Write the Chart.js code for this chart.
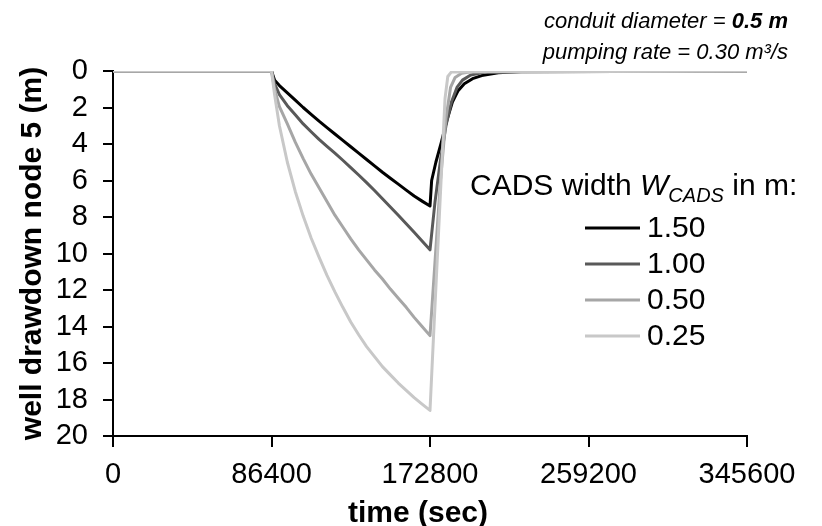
<!DOCTYPE html>
<html>
<head>
<meta charset="utf-8">
<script src="https://cdn.jsdelivr.net/npm/chart.js@4.4.1/dist/chart.umd.min.js"></script>
<style>
  html, body { margin: 0; padding: 0; background: #fff; }
</style>
</head>
<body>
<canvas id="chart" width="822" height="526"></canvas>
<script>
const FONT = '"Liberation Sans", Arial, Helvetica, sans-serif';

const widthLabels = ["1.50", "1.00", "0.50", "0.25"];
const lineColors = ["#000000", "#595959", "#a6a6a6", "#c8c8c8"];
const xTicks = [0, 86400, 172800, 259200, 345600];

// pumping phase (sec), same steps for every CADS width
const pumpTime = [0, 86400, 88100, 90720, 95040, 99360, 103680, 108000, 112320, 116640, 120960,
                  125280, 129600, 133920, 138240, 142560, 146880, 151200, 155520, 159840, 164160, 168480, 172800];
const pump150 = [0, 0, 0.5, 0.8, 1.2, 1.6, 2.0, 2.38, 2.75, 3.1, 3.45, 3.8, 4.15, 4.5, 4.85, 5.2, 5.55, 5.88, 6.2, 6.53, 6.85, 7.13, 7.4];
const pump100 = [0, 0, 0.7, 1.3, 1.9, 2.4, 2.9, 3.33, 3.75, 4.13, 4.5, 4.89, 5.29, 5.7, 6.12, 6.55, 7.0, 7.45, 7.9, 8.37, 8.84, 9.32, 9.8];
const pump050 = [0, 0, 1.0, 1.95, 2.9, 3.9, 4.8, 5.65, 6.4, 7.15, 7.9, 8.55, 9.2, 9.8, 10.35, 10.9, 11.4, 11.95, 12.45, 12.95, 13.5, 14.0, 14.5];
const pump025 = [0, 0, 1.3, 3.0, 5.0, 6.6, 7.95, 9.15, 10.2, 11.2, 12.1, 12.95, 13.75, 14.45, 15.1, 15.65, 16.2, 16.65, 17.1, 17.5, 17.9, 18.25, 18.6];

// recovery after the pump stops
const recTime150 = [173700, 176000, 179000, 182000, 185000, 188000, 191500, 196000, 201000, 210000, 225000, 345600];
const rec150 = [6.0, 5.0, 3.9, 2.7, 1.7, 1.1, 0.7, 0.42, 0.25, 0.1, 0.02, 0];
const recTime100 = [175500, 178500, 181500, 184500, 187500, 190500, 195000, 203000, 345600];
const rec100 = [7.2, 4.9, 3.0, 1.7, 0.9, 0.5, 0.22, 0.06, 0];
const recTime050 = [175500, 178500, 181500, 184000, 186500, 190000, 196000, 345600];
const rec050 = [10.5, 6.0, 2.6, 0.9, 0.35, 0.12, 0.03, 0];
const recTime025 = [174500, 177000, 179500, 181000, 182500, 184500, 345600];
const rec025 = [15.0, 9.8, 4.6, 1.5, 0.3, 0.05, 0];

function series(pump, recTime, rec) {
  const pts = pumpTime.map((t, i) => ({ x: t, y: pump[i] }));
  return pts.concat(recTime.map((t, i) => ({ x: t, y: rec[i] })));
}

const allSeries = [
  series(pump150, recTime150, rec150),
  series(pump100, recTime100, rec100),
  series(pump050, recTime050, rec050),
  series(pump025, recTime025, rec025)
];

// legend block, notes and x title, drawn by hand (subscript in the heading)
const notesAndLegend = {
  id: "notesAndLegend",
  afterDraw(chart) {
    const ctx = chart.ctx;
    ctx.save();
    ctx.fillStyle = "#000";
    ctx.textBaseline = "alphabetic";
    ctx.textAlign = "left";

    let x = 470;
    const parts = [
      ["CADS width ", "30px", 0],
      ["W", "italic 30px", 0],
      ["CADS", "italic 20px", 7],
      [" in m:", "30px", 0]
    ];
    parts.forEach(p => {
      ctx.font = p[1] + " " + FONT;
      ctx.fillText(p[0], x, 195 + p[2]);
      x += ctx.measureText(p[0]).width;
    });

    chart.data.datasets.forEach((ds, i) => {
      const y = 228 + i * 36;
      ctx.strokeStyle = ds.borderColor;
      ctx.lineWidth = 3;
      ctx.beginPath();
      ctx.moveTo(585, y);
      ctx.lineTo(640, y);
      ctx.stroke();
      ctx.font = "30px " + FONT;
      ctx.textBaseline = "middle";
      ctx.fillText(ds.label, 647, y + 1);
      ctx.textBaseline = "alphabetic";
    });

    // top-right notes, right aligned
    const right = 788;
    ctx.font = "italic 22px " + FONT;
    const a = "conduit diameter = ";
    const wa = ctx.measureText(a).width;
    ctx.font = "italic bold 22px " + FONT;
    const b = "0.5 m";
    const wb = ctx.measureText(b).width;
    ctx.font = "italic 22px " + FONT;
    ctx.fillText(a, right - wa - wb, 28);
    ctx.font = "italic bold 22px " + FONT;
    ctx.fillText(b, right - wb, 28);
    ctx.font = "italic 22px " + FONT;
    ctx.textAlign = "right";
    ctx.fillText("pumping rate = 0.30 m\u00b3/s", right, 59);

    // x axis title
    ctx.textAlign = "center";
    ctx.font = "bold 30px " + FONT;
    ctx.fillText("time (sec)", 418, 522);
    ctx.restore();
  }
};

new Chart(document.getElementById("chart"), {
  type: "line",
  data: {
    datasets: allSeries.map((pts, i) => ({
      label: widthLabels[i],
      data: pts,
      borderColor: lineColors[i],
      backgroundColor: lineColors[i],
      borderWidth: 3,
      pointRadius: 0,
      tension: 0,
      borderJoinStyle: "round",
      fill: false,
      order: 3 - i
    }))
  },
  options: {
    responsive: false,
    animation: false,
    devicePixelRatio: 1,
    layout: { padding: { top: 71, right: 75, bottom: 0, left: 0 } },
    scales: {
      x: {
        type: "linear",
        min: 0,
        max: 345600,
        afterBuildTicks: s => { s.ticks = xTicks.map(v => ({ value: v })); },
        ticks: {
          color: "#000",
          font: { family: FONT, size: 29 },
          padding: 11,
          maxRotation: 0,
          autoSkip: false,
          callback: v => String(v)
        },
        grid: { drawOnChartArea: false, drawTicks: true, tickLength: 11, color: "#000", lineWidth: 2 },
        border: { display: true, color: "#000", width: 2 },
        afterFit: s => { s.height = 90; s.paddingLeft = 0; s.paddingRight = 0; }
      },
      y: {
        reverse: true,
        min: 0,
        max: 20,
        ticks: {
          stepSize: 2,
          autoSkip: false,
          color: "#000",
          font: { family: FONT, size: 29 },
          padding: 15
        },
        grid: { drawOnChartArea: false, drawTicks: true, tickLength: 10, color: "#000", lineWidth: 2 },
        border: { display: true, color: "#000", width: 2 },
        title: {
          display: true,
          text: "well drawdown node 5 (m)",
          color: "#000",
          font: { family: FONT, size: 30, weight: "bold" },
          padding: { top: 15, bottom: 0 }
        },
        afterFit: s => { s.width = 113; s.paddingTop = 0; s.paddingBottom = 0; }
      }
    },
    plugins: {
      legend: { display: false },
      tooltip: { enabled: false }
    }
  },
  plugins: [notesAndLegend]
});
</script>
</body>
</html>
